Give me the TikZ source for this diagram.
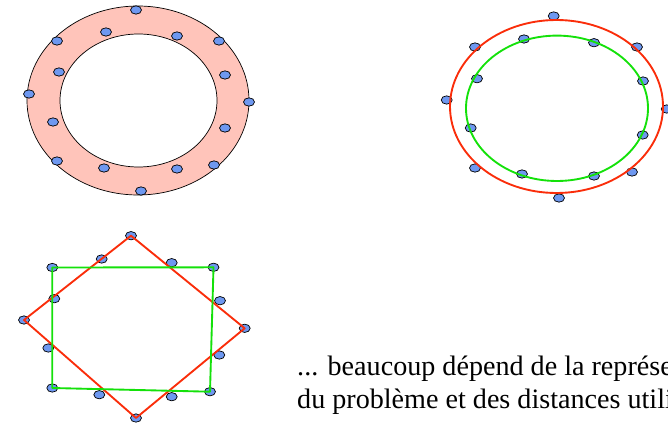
\documentclass[tikz,border=0pt]{standalone}
\usepackage{fontspec}
\setmainfont{Liberation Serif}
\usetikzlibrary{shapes.geometric}

\definecolor{dotblue}{RGB}{110,152,240}
\definecolor{ringpink}{RGB}{255,196,186}
\definecolor{edgered}{RGB}{250,45,10}
\definecolor{edgegreen}{RGB}{20,225,10}

\begin{document}
\begin{tikzpicture}[
        x=0.03cm, y=-0.03cm,
        pt/.style={draw, ellipse, fill=dotblue, line width=0.6pt, minimum width=0.33cm, minimum height=0.25cm, inner sep=0pt},
        rline/.style={edgered, line width=1.6pt, line join=round},
        gline/.style={edgegreen, line width=1.6pt, line join=round}
    ]
    \useasboundingbox (0,0) rectangle (668,426);

    % ---- Top left: filled ring with points ----
    \fill[ringpink, even odd rule] (138,100.5) ellipse (111 and 94.5) (138.5,100.5) ellipse (78.5 and 66.5);
    \draw[line width=0.6pt] (138,100.5) ellipse (111 and 94.5);
    \draw[line width=0.6pt] (138.5,100.5) ellipse (78.5 and 66.5);
    \foreach \n/\x/\y in {a1/136/10, a2/106/32, a3/177/36, a4/57/41, a5/219/41, a6/59/72,
                          a7/225/75, a8/29/94, a9/249/102, a10/53/122, a11/225/128,
                          a12/57/161, a13/104/168, a14/177/169, a15/214/165, a16/141/191}
        \node[pt] (\n) at (\x,\y) {};

    % ---- Top right: two ellipses through the points ----
    \foreach \n/\x/\y in {b1/553.7/16, b2/524/39, b3/594/42.7, b4/475/47, b5/637/47, b6/477/78.7,
                          b7/643/81, b8/446.7/100, b9/666.7/109, b10/470.7/128, b11/642.7/135,
                          b12/475/168, b13/522/174, b14/594/176, b15/632/172, b16/559/198}
        \node[pt] (\n) at (\x,\y) {};
    \draw[rline] (556.5,106.5) ellipse (106.5 and 86.5);
    \draw[gline] (557,108.3) ellipse (91 and 72.7);

    % ---- Bottom left: two squares through the points ----
    \foreach \n/\x/\y in {c1/131/235.7, c2/101.7/259, c3/171.7/262.7, c4/52.3/267.5, c5/213.5/267.3,
                          c6/54.3/298.7, c7/220/300.7, c8/24/320, c9/244.7/328.3, c10/48.3/348,
                          c11/219.3/355, c12/52.3/388, c13/210/391.7, c14/99.3/394.7,
                          c15/171.7/396.7, c16/136/418}
        \node[pt] (\n) at (\x,\y) {};
    \draw[rline] (c1.center) -- (c9.center) -- (c16.center) -- (c8.center) -- cycle;
    \draw[gline] (c4.center) -- (c5.center) -- (c13.center) -- (c12.center) -- cycle;

    % ---- Caption ----
    \node[anchor=base west, align=left, inner sep=0pt, font=\fontsize{24}{27.5}\selectfont] (txt) at (297,408)
        {... beaucoup dépend de la représentation\\du problème et des distances utilisées};
\end{tikzpicture}
\end{document}
